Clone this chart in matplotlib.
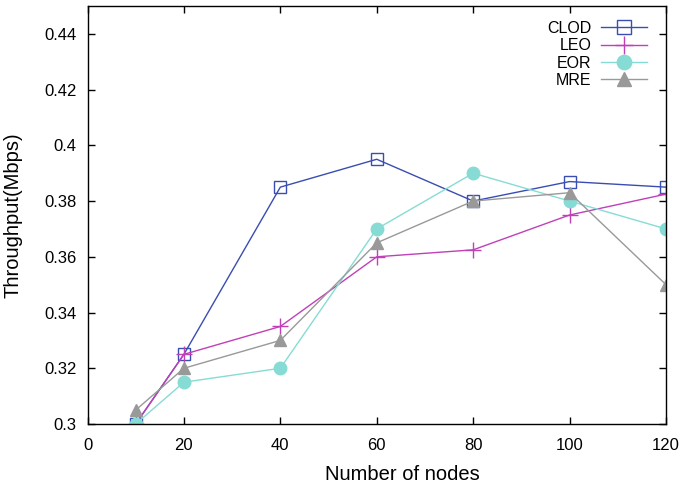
import matplotlib
matplotlib.use("Agg")
import matplotlib.pyplot as plt

plt.rcParams['font.family'] = ['Liberation Sans', 'DejaVu Sans']

nodes = [10, 20, 40, 60, 80, 100, 120]
clod = [0.300, 0.325, 0.385, 0.395, 0.380, 0.387, 0.385]
leo = [0.300, 0.325, 0.335, 0.360, 0.3625, 0.375, 0.3825]
eor = [0.300, 0.315, 0.320, 0.370, 0.390, 0.380, 0.370]
mre = [0.305, 0.320, 0.330, 0.365, 0.380, 0.383, 0.350]

xticks = [0, 20, 40, 60, 80, 100, 120]
yticks = [0.30, 0.32, 0.34, 0.36, 0.38, 0.40, 0.42, 0.44]
ytick_labels = ['0.3', '0.32', '0.34', '0.36', '0.38', '0.4', '0.42', '0.44']

W, H = 685, 490
fig = plt.figure(figsize=(W/100, H/100), dpi=100)
left, right, top, bottom = 87.5, 666, 6, 424
ax = fig.add_axes([left/W, 1 - bottom/H, (right-left)/W, (bottom-top)/H])

ax.plot(nodes, clod, color='#3a4db0', lw=1.0, marker='s', ms=9, mfc='none', mec='#3a4db0', mew=1.0, label='CLOD')
ax.plot(nodes, leo, color='#c040b8', lw=1.0, marker='+', ms=11, mew=1.0, label='LEO')
ax.plot(nodes, eor, color='#86dcd4', lw=1.0, marker='o', ms=9, mec='#86dcd4', label='EOR')
ax.plot(nodes, mre, color='#999999', lw=1.0, marker='^', ms=9, mec='#999999', label='MRE')

ax.set_xlim(0, 120)
ax.set_ylim(0.30, 0.45)
ax.set_xticks(xticks)
ax.set_yticks(yticks)
ax.set_yticklabels(ytick_labels)
ax.tick_params(direction='in', top=True, right=True, labelsize=12, length=5, width=1)
ax.tick_params(axis='x', pad=10)
ax.tick_params(axis='y', pad=8)
for s in ax.spines.values():
    s.set_linewidth(1.0)

ax.set_xlabel('Number of nodes', fontsize=14.5)
ax.set_ylabel('Throughput(Mbps)', fontsize=14.5)
ax.xaxis.set_label_coords(((323+482)/2 - left)/(right-left), -(474-bottom)/(bottom-top))
ax.yaxis.set_label_coords(-(left-13)/(right-left), 0.5)
ax.xaxis.label.set_va('center')
ax.yaxis.label.set_va('center')

leg = ax.legend(loc='upper right', bbox_to_anchor=(0.979, 0.98), frameon=False, markerfirst=False,
                fontsize=11.5, handlelength=2.9, labelspacing=0.15, handletextpad=0.6,
                markerscale=1.15, borderaxespad=0)

fig.savefig('out.png', dpi=100)
